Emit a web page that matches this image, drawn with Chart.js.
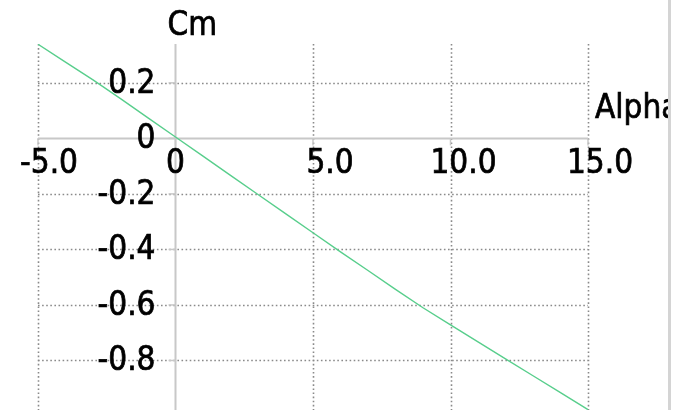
<!DOCTYPE html>
<html>
<head>
<meta charset="utf-8">
<script src="https://cdn.jsdelivr.net/npm/chart.js@4.4.1/dist/chart.umd.min.js"></script>
<style>
  html, body { margin: 0; padding: 0; background: #ffffff; }
  #wrap { position: relative; width: 674px; height: 410px; overflow: hidden; background: #ffffff; }
  #c { position: absolute; left: 0; top: 0; }
  #edge { position: absolute; left: 668px; top: 0; width: 3px; height: 410px; background: #d4d4d4; }
</style>
</head>
<body>
<div id="wrap">
  <canvas id="c" width="668" height="420"></canvas>
  <div id="edge"></div>
</div>
<script>
// ---- data ----
const alpha = [-5, -4, -3, -2, -1, 0, 1, 2, 3, 4, 5, 6, 7, 8, 9, 10, 11, 12, 13, 14, 15];
const cm = [0.339, 0.275, 0.211, 0.143, 0.074, 0.005, -0.064, -0.133, -0.202, -0.271, -0.340,
            -0.409, -0.476, -0.544, -0.610, -0.672, -0.733, -0.794, -0.855, -0.916, -0.977];
const xTicks = [-5, 0, 5, 10, 15];
const xTickLabels = ["-5.0", "0", "5.0", "10.0", "15.0"];
const yTicks = [0.2, 0, -0.2, -0.4, -0.6, -0.8];
const yTickLabels = ["0.2", "0", "-0.2", "-0.4", "-0.6", "-0.8"];
const xTitle = "Alpha";
const yTitle = "Cm";

// ---- style ----
const FONT = '33px "DejaVu Sans Condensed", "Liberation Sans", sans-serif';
const xLabelShift = { "-5": 11, "0": 0, "5": 17, "10": 13, "15": 12 };

const axesPlugin = {
  id: 'crossAxes',
  beforeDatasetsDraw(chart) {
    const ctx = chart.ctx;
    const xs = chart.scales.x, ys = chart.scales.y;
    const ca = chart.chartArea;
    const x0 = xs.getPixelForValue(0), y0 = ys.getPixelForValue(0);
    const xl = xs.getPixelForValue(xs.min), xr = xs.getPixelForValue(xs.max);
    ctx.save();
    // dotted grid
    ctx.strokeStyle = '#8a8a8a';
    ctx.lineWidth = 1.6;
    ctx.setLineDash([1.6, 2.5]);
    xTicks.forEach(v => {
      if (v === 0) return;
      const p = Math.round(xs.getPixelForValue(v)) + 0.5;
      ctx.beginPath(); ctx.moveTo(p, ca.top); ctx.lineTo(p, ca.bottom); ctx.stroke();
    });
    yTicks.forEach(v => {
      if (v === 0) return;
      const p = Math.round(ys.getPixelForValue(v)) + 0.5;
      ctx.beginPath(); ctx.moveTo(xl, p); ctx.lineTo(xr, p); ctx.stroke();
    });
    ctx.setLineDash([]);
    // solid axes
    ctx.strokeStyle = '#c8c8c8';
    ctx.lineWidth = 2;
    ctx.beginPath(); ctx.moveTo(xl, y0); ctx.lineTo(xr, y0); ctx.stroke();
    ctx.beginPath(); ctx.moveTo(x0, ca.top); ctx.lineTo(x0, ca.bottom); ctx.stroke();
    // tick marks
    ctx.lineWidth = 1.5;
    xTicks.forEach(v => {
      const p = xs.getPixelForValue(v);
      ctx.beginPath(); ctx.moveTo(p, y0); ctx.lineTo(p, y0 + 7); ctx.stroke();
    });
    yTicks.forEach(v => {
      const p = ys.getPixelForValue(v);
      ctx.beginPath(); ctx.moveTo(x0 - 7, p); ctx.lineTo(x0, p); ctx.stroke();
    });
    ctx.restore();
  },
  afterDraw(chart) {
    const ctx = chart.ctx;
    const xs = chart.scales.x, ys = chart.scales.y;
    const x0 = xs.getPixelForValue(0), y0 = ys.getPixelForValue(0);
    ctx.save();
    ctx.font = FONT;
    ctx.fillStyle = '#000000';
    ctx.strokeStyle = '#000000';
    ctx.lineWidth = 0.7;
    ctx.textBaseline = 'alphabetic';
    const put = (t, x, y) => { ctx.fillText(t, x, y); ctx.strokeText(t, x, y); };
    // x tick labels
    ctx.textAlign = 'center';
    xTicks.forEach((v, i) => {
      const p = xs.getPixelForValue(v) + (xLabelShift[String(v)] || 0);
      put(xTickLabels[i], p, y0 + 35);
    });
    // y tick labels
    ctx.textAlign = 'right';
    yTicks.forEach((v, i) => {
      const p = ys.getPixelForValue(v);
      put(yTickLabels[i], x0 - 20, p + 10);
    });
    // titles
    ctx.textAlign = 'left';
    put(yTitle, x0 - 8, 35);
    put(xTitle, xs.getPixelForValue(xs.max) + 7, y0 - 20);
    ctx.restore();
  }
};

new Chart(document.getElementById('c'), {
  type: 'scatter',
  data: {
    datasets: [{
      data: alpha.map((a, i) => ({ x: a, y: cm[i] })),
      showLine: true,
      borderColor: 'rgb(88, 206, 140)',
      borderWidth: 1.4,
      pointRadius: 0,
      tension: 0,
      fill: false
    }]
  },
  options: {
    responsive: false,
    animation: false,
    devicePixelRatio: 1,
    layout: { padding: { left: 38, right: 80, top: 44, bottom: 4 } },
    plugins: { legend: { display: false }, tooltip: { enabled: false }, title: { display: false } },
    scales: {
      x: { type: 'linear', min: -5, max: 15, display: false },
      y: { type: 'linear', min: -1.0, max: 0.34, display: false }
    }
  },
  plugins: [axesPlugin]
});
</script>
</body>
</html>
